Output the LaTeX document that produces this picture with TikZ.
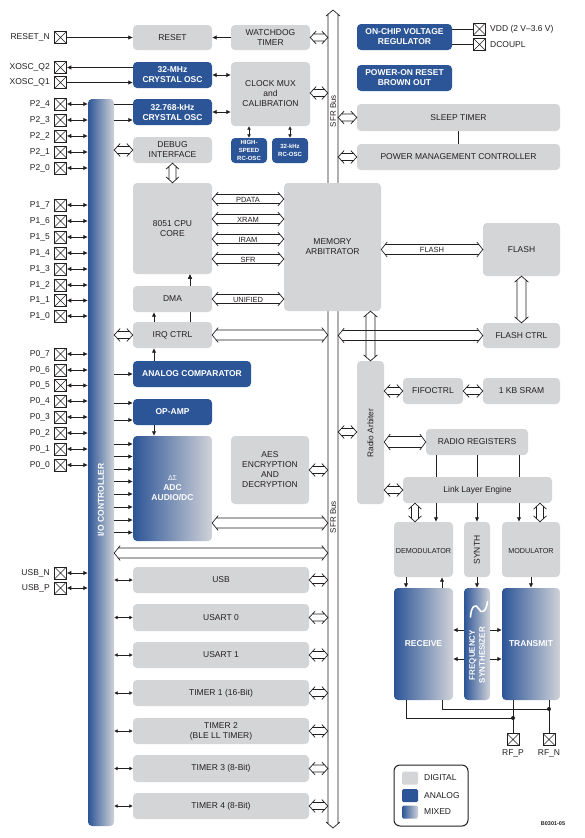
\documentclass[tikz,border=0pt]{standalone}
\usepackage{fontspec}
\setmainfont{Liberation Sans}
\usetikzlibrary{arrows.meta,calc}
\definecolor{dgray}{RGB}{212,213,215}
\definecolor{ablue}{RGB}{44,85,151}
\definecolor{mgray}{RGB}{208,210,216}
\definecolor{tcol}{RGB}{35,31,32}
\tikzset{
 base/.style={rounded corners=4pt, inner sep=0pt, align=center, font=\fontsize{8.5}{10}\selectfont},
 dig/.style={base, fill=dgray, text=tcol},
 ana/.style={base, fill=ablue, text=white, font=\fontsize{8.5}{10}\selectfont\bfseries},
 anasmall/.style={ana, font=\fontsize{6}{7.6}\selectfont\bfseries},
 mix/.style={base, left color=ablue, right color=mgray, text=white, font=\fontsize{8.5}{10}\selectfont\bfseries},
 pinbox/.style={draw=tcol, line width=0.6pt, minimum size=12pt, inner sep=0pt, fill=white,
   path picture={\draw[line width=0.5pt, tcol] (path picture bounding box.south west) -- (path picture bounding box.north east) (path picture bounding box.north west) -- (path picture bounding box.south east);}},
 ptxt/.style={font=\fontsize{8.5}{10}\selectfont, text=tcol, inner sep=0pt},
 arr/.style={line width=0.7pt, draw=tcol, >={Latex[length=4.5pt,width=4.5pt]}},
 sarr/.style={line width=0.7pt, draw=tcol, >={Latex[length=3.5pt,width=4pt]}},
 hl/.style={line width=0.7pt, draw=tcol},
 btxt/.style={font=\fontsize{7.5}{9}\selectfont, text=tcol, inner sep=0pt},
 rtxt/.style={font=\fontsize{8}{9}\selectfont, text=tcol, inner sep=0pt, rotate=90},
}
\newcommand\blk[7]{\node[#6, minimum width={(#4-#2)*1pt}, minimum height={(#5-#3)*1pt}] (#1) at ({(#2+#4)/2},{(#3+#5)/2}) {#7};}
\newcommand\HA[5][white]{%
\path[fill=#1] let \p1=#2, \p2=#3 in (\x1,\y1) -- ({\x1+6pt},{\y1+#5pt}) -- ({\x1+6pt},{\y1+#4pt}) -- ({\x2-6pt},{\y1+#4pt}) -- ({\x2-6pt},{\y1+#5pt}) -- (\x2,\y1) -- ({\x2-6pt},{\y1-#5pt}) -- ({\x2-6pt},{\y1-#4pt}) -- ({\x1+6pt},{\y1-#4pt}) -- ({\x1+6pt},{\y1-#5pt}) -- cycle;
\draw[hl] let \p1=#2, \p2=#3, \n1={6*#4/#5} in ({\x1+6pt},{\y1+#5pt}) -- (\x1,\y1) -- ({\x1+6pt},{\y1-#5pt}) ({\x2-6pt},{\y1+#5pt}) -- (\x2,\y1) -- ({\x2-6pt},{\y1-#5pt}) ({\x1+\n1*1pt},{\y1+#4pt}) -- ({\x2-\n1*1pt},{\y1+#4pt}) ({\x1+\n1*1pt},{\y1-#4pt}) -- ({\x2-\n1*1pt},{\y1-#4pt});}
\newcommand\VA[5][white]{%
\path[fill=#1] let \p1=#2, \p2=#3 in (\x1,\y1) -- ({\x1+#5pt},{\y1-6pt}) -- ({\x1+#4pt},{\y1-6pt}) -- ({\x1+#4pt},{\y2+6pt}) -- ({\x1+#5pt},{\y2+6pt}) -- (\x1,\y2) -- ({\x1-#5pt},{\y2+6pt}) -- ({\x1-#4pt},{\y2+6pt}) -- ({\x1-#4pt},{\y1-6pt}) -- ({\x1-#5pt},{\y1-6pt}) -- cycle;
\draw[hl] let \p1=#2, \p2=#3, \n1={6*#4/#5} in ({\x1+#5pt},{\y1-6pt}) -- (\x1,\y1) -- ({\x1-#5pt},{\y1-6pt}) ({\x1+#5pt},{\y2+6pt}) -- (\x1,\y2) -- ({\x1-#5pt},{\y2+6pt}) ({\x1+#4pt},{\y1-\n1*1pt}) -- ({\x1+#4pt},{\y2+\n1*1pt}) ({\x1-#4pt},{\y1-\n1*1pt}) -- ({\x1-#4pt},{\y2+\n1*1pt});}
\begin{document}
\begin{tikzpicture}[x=1pt,y=-1pt]
\useasboundingbox (0,0) rectangle (584,838);
\fill[white] (0,0) rectangle (584,838);

% SFR bus
\coordinate (sfrtop) at (333,10);
\coordinate (sfrbot) at (333,828);
\VA{(sfrtop)}{(sfrbot)}{5}{7}
\node[inner sep=0pt, minimum width=10pt, minimum height=818pt] (sfr) at (333,419) {};
\node[rtxt] (sfrl1) at (333,111) {SFR Bus};
\node[rtxt] (sfrl2) at (333,517) {SFR Bus};

% left column blocks
\blk{io}{88}{99}{114}{826}{mix}{}
\node[rotate=90, text=white, font=\fontsize{8.5}{10}\selectfont\bfseries, inner sep=0pt] (iot) at (101,500) {I/O CONTROLLER};
\blk{reset}{133}{25}{212}{50}{dig}{RESET}
\blk{wd}{231}{25}{310}{50}{dig}{WATCHDOG\\TIMER}
\blk{xosc32m}{133}{62}{212}{88}{ana}{32-MHz\\CRYSTAL OSC}
\blk{clkmux}{231}{62}{310}{126}{dig}{CLOCK MUX\\and\\CALIBRATION}
\blk{xosc32k}{133}{99}{212}{125}{ana}{32.768-kHz\\CRYSTAL OSC}
\blk{hsrc}{231}{138}{267}{163}{anasmall}{HIGH-\\SPEED\\RC-OSC}
\blk{rc32k}{272}{138}{308}{163}{anasmall}{32-kHz\\RC-OSC}
\blk{dbg}{133}{137}{212}{163}{dig}{DEBUG\\INTERFACE}
\blk{cpu}{133}{183}{212}{274}{dig}{8051 CPU\\CORE}
\blk{arb}{284}{183}{381}{311}{dig}{MEMORY\\ARBITRATOR}
\blk{irq}{133}{322}{212}{348}{dig}{IRQ CTRL}
\draw[arr,->] (irq.north -| 190,0) -- (cpu.south -| 190,0);
\blk{dma}{133}{286}{212}{312}{dig}{DMA}
\blk{acomp}{133}{361}{251}{387}{ana}{ANALOG COMPARATOR}
\blk{opamp}{133}{399}{212}{425}{ana}{OP-AMP}
\blk{adc}{133}{436}{212}{541}{mix}{{\fontsize{7}{8}\selectfont\mdseries ΔΣ}\\ADC\\AUDIO/DC}
\blk{aes}{231}{436}{309}{504}{dig}{AES\\ENCRYPTION\\AND\\DECRYPTION}
\blk{usb}{133}{567}{309}{593}{dig}{USB}
\blk{usart0}{133}{604}{309}{631}{dig}{USART 0}
\blk{usart1}{133}{642}{309}{668}{dig}{USART 1}
\blk{t1}{133}{680}{309}{706}{dig}{TIMER 1 (16-Bit)}
\blk{t2}{133}{718}{309}{744}{dig}{TIMER 2\\(BLE LL TIMER)}
\blk{t3}{133}{755}{309}{782}{dig}{TIMER 3 (8-Bit)}
\blk{t4}{133}{793}{309}{819}{dig}{TIMER 4 (8-Bit)}

% right column blocks
\blk{vreg}{357}{24}{452}{50}{ana}{ON-CHIP VOLTAGE\\REGULATOR}
\blk{por}{357}{65}{452}{91}{ana}{POWER-ON RESET\\BROWN OUT}
\blk{sleep}{357}{104}{560}{131}{dig}{SLEEP TIMER}
\blk{pmc}{357}{144}{560}{170}{dig}{POWER MANAGEMENT CONTROLLER}
\blk{flash}{483}{223}{560}{276}{dig}{FLASH}
\blk{flashctrl}{483}{323}{560}{348}{dig}{FLASH CTRL}
\blk{rarb}{357}{361}{384}{504}{dig}{}
\node[rtxt, font=\fontsize{8.3}{9}\selectfont] (rarbt) at (370.5,433) {Radio Arbiter};
\blk{fifo}{403}{378}{463}{404}{dig}{FIFOCTRL}
\blk{sram}{483}{378}{560}{404}{dig}{1 KB SRAM}
\blk{rreg}{426}{429}{528}{455}{dig}{RADIO REGISTERS}
\blk{lle}{403}{477}{552}{503}{dig}{Link Layer Engine}
\draw[hl] (rreg.south -| 436,0) -- (lle.north -| 436,0);
\draw[hl] (rreg.south -| 477,0) -- (lle.north -| 477,0);
\draw[hl] (rreg.south -| 519,0) -- (lle.north -| 519,0);
\blk{demod}{394}{522}{453}{577}{dig}{}
\node[ptxt, font=\fontsize{7.2}{9}\selectfont] (demodt) at (423.5,551) {DEMODULATOR};
\blk{synth}{464}{522}{490}{577}{dig}{}
\node[rtxt, font=\fontsize{8.5}{9}\selectfont] (syntht) at (477,550) {SYNTH};
\blk{mod}{502}{522}{560}{577}{dig}{}
\node[ptxt, font=\fontsize{7.2}{9}\selectfont] (modt) at (531,551) {MODULATOR};
\blk{rx}{394}{588}{453}{700}{mix}{RECEIVE}
\blk{fs}{464}{588}{490}{700}{mix}{}
\node[rotate=90, text=white, align=center, inner sep=0pt, font=\fontsize{8}{10}\selectfont\bfseries] (fst) at (477,655) {FREQUENCY\\SYNTHESIZER};
\draw[white, line width=1.6pt, line cap=round] (470.5,617) .. controls (471,606) and (476,603) .. (478.5,608.5) .. controls (481,614) and (486,613) .. (487.5,601.5);
\blk{tx}{502}{588}{560}{700}{mix}{TRANSMIT}

% pins
\node[pinbox] (prst) at (60.5,37.5) {};
\node[ptxt, anchor=east] (tprst) at (50,37.5) {RESET\_N};
\node[pinbox] (pq2) at (60.5,67.5) {};
\node[ptxt, anchor=east] (tpq2) at (50,67.5) {XOSC\_Q2};
\node[pinbox] (pq1) at (60.5,82.5) {};
\node[ptxt, anchor=east] (tpq1) at (50,82.5) {XOSC\_Q1};
\foreach \nm/\lab/\yy in {p24/P2\_4/104, p23/P2\_3/120, p22/P2\_2/136, p21/P2\_1/152, p20/P2\_0/168,
  p17/P1\_7/205, p16/P1\_6/221, p15/P1\_5/237, p14/P1\_4/253, p13/P1\_3/269, p12/P1\_2/285, p11/P1\_1/300.5, p10/P1\_0/316,
  p07/P0\_7/354, p06/P0\_6/370, p05/P0\_5/385.5, p04/P0\_4/401, p03/P0\_3/417, p02/P0\_2/433, p01/P0\_1/449, p00/P0\_0/465,
  usbn/USB\_N/573, usbp/USB\_P/588}{
  \node[pinbox] (\nm) at (60.5,\yy) {};
  \node[ptxt, anchor=east] (t\nm) at (50,\yy) {\lab};
  \draw[arr,<->] (\nm.east) -- (io.west |- \nm.east);
}
\node[pinbox] (vdd) at (479.5,29) {};
\node[ptxt, anchor=west] (tvdd) at (490,29) {VDD (2 V–3.6 V)};
\node[pinbox] (dcp) at (479.5,44.5) {};
\node[ptxt, anchor=west] (tdcp) at (490,44.5) {DCOUPL};
\draw[hl] (vreg.east |- vdd.west) -- (vdd.west);
\draw[hl] (vreg.east |- dcp.west) -- (dcp.west);
\node[pinbox] (rfp) at (513,739.5) {};
\node[ptxt] (trfp) at (513,753) {RF\_P};
\node[pinbox] (rfn) at (549,739.5) {};
\node[ptxt] (trfn) at (549,753) {RF\_N};

% simple arrows
\draw[arr,->] (prst.east) -- (reset.west);
\draw[arr,->] (wd.west) -- (reset.east);
\draw[arr,->] (xosc32m.west |- pq2.east) -- (pq2.east);
\draw[arr,->] (pq1.east) -- (xosc32m.west |- pq1.east);
\draw[arr,<->] (xosc32m.east) -- (clkmux.west |- xosc32m.east);
\draw[arr,<->] (xosc32k.east) -- (clkmux.west |- xosc32k.east);
\draw[sarr,<->] (clkmux.south -| hsrc.north) -- (hsrc.north);
\draw[sarr,<->] (clkmux.south -| rc32k.north) -- (rc32k.north);
\draw[arr] (io.east |- 0,104) -- (xosc32k.west |- 0,104);
\draw[arr,->] (io.east |- 0,120) -- (xosc32k.west |- 0,120);
\draw[arr,->] (dma.north -| 190,0) -- (cpu.south -| 190,0);
\draw[arr,->] (irq.north -| 154,0) -- (dma.south -| 154,0);
\draw[arr,->] (acomp.north -| 154,0) -- (irq.south -| 154,0);
\draw[arr,->] (io.east |- acomp.west) -- (acomp.west);
\draw[arr,->] (io.east |- 0,403) -- (opamp.west |- 0,403);
\draw[arr,->] (io.east |- 0,420) -- (opamp.west |- 0,420);
\draw[arr,->] (opamp.south -| 154,0) -- (adc.north -| 154,0);
\foreach \yy in {444,456.5,469,481.5,494,507,520,532.5}{
  \draw[arr,->] (io.east |- 0,\yy) -- (adc.west |- 0,\yy);
}
\draw[hl] (sleep.south) -- (pmc.north);
\draw[arr,->] (lle.south -| 436,0) -- (demod.north -| 436,0);
\draw[arr,->] (lle.south -| 477,0) -- (synth.north);
\draw[arr,->] (lle.south -| 519,0) -- (mod.north -| 519,0);
\draw[arr,->] (demod.south -| 406,0) -- (rx.north -| 406,0);
\draw[arr,->] (rx.north -| 442,0) -- (demod.south -| 442,0);
\draw[arr,->] (synth.south) -- (fs.north);
\draw[arr,->] (mod.south) -- (tx.north);
\draw[arr,->] (fs.west |- 0,630) -- (rx.east |- 0,630);
\draw[arr,->] (fs.west |- 0,659) -- (rx.east |- 0,659);
\draw[arr,->] (fs.east |- 0,630) -- (tx.west |- 0,630);
\draw[arr,->] (fs.east |- 0,659) -- (tx.west |- 0,659);
\coordinate (dotp) at (513,718);
\coordinate (dotn) at (549,709);
\draw[hl] (rx.south -| 406,0) |- (dotp);
\draw[hl] (rx.south -| 442,0) |- (dotn);
\draw[hl] (tx.south -| rfp.north) -- (rfp.north);
\draw[hl] (tx.south -| rfn.north) -- (rfn.north);
\fill[tcol] (dotp) circle (2pt);
\fill[tcol] (dotn) circle (2pt);

% hollow arrows, small
\HA{(wd.east)}{(sfr.west |- wd.east)}{3.5}{6.5}
\HA{(clkmux.east |- 0,93)}{(sfr.west |- 0,93)}{3.5}{6.5}
\HA{(sfr.east |- sleep.west)}{(sleep.west)}{3.5}{6.5}
\HA{(sfr.east |- pmc.west)}{(pmc.west)}{3.5}{6.5}
\HA{(io.east |- dbg.west)}{(dbg.west)}{3.5}{6.5}
\HA{(io.east |- irq.west)}{(irq.west)}{3.5}{6.5}
\VA{(dbg.south)}{(cpu.north)}{3.5}{6.5}
\HA{(aes.east |- 0,470)}{(sfr.west |- 0,470)}{3.5}{6.5}
\foreach \b in {usb,usart0,usart1,t1,t2,t3,t4}{
  \draw[sarr,<->] (io.east |- \b.west) -- (\b.west);
  \HA{(\b.east)}{(sfr.west |- \b.east)}{3.5}{6.5}
}
\HA{(sfr.east |- 0,432)}{(rarb.west |- 0,432)}{3.5}{6.5}
\HA{(rarb.east |- fifo.west)}{(fifo.west)}{3.5}{6.5}
\HA{(fifo.east)}{(sram.west)}{3.5}{6.5}
\HA{(rarb.east |- lle.west)}{(lle.west)}{3.5}{6.5}
\VA{(lle.south -| 415,0)}{(demod.north -| 415,0)}{3.5}{6.5}
\VA{(lle.south -| 540,0)}{(mod.north -| 540,0)}{3.5}{6.5}

% labelled buses
\HA{(cpu.east |- 0,199)}{(arb.west |- 0,199)}{4.5}{7}
\HA{(cpu.east |- 0,219)}{(arb.west |- 0,219)}{4.5}{7}
\HA{(cpu.east |- 0,239)}{(arb.west |- 0,239)}{4.5}{7}
\HA{(cpu.east |- 0,259)}{(arb.west |- 0,259)}{4.5}{7}
\HA{(dma.east)}{(arb.west |- dma.east)}{4.5}{7}
\node[btxt] (lpd) at (248,199.5) {PDATA};
\node[btxt] (lxr) at (248,219.5) {XRAM};
\node[btxt] (lir) at (248,239.5) {IRAM};
\node[btxt] (lsf) at (248,259.5) {SFR};
\node[btxt] (lun) at (248,299.5) {UNIFIED};
\HA{(arb.east |- flash.west)}{(flash.west)}{5}{7.5}
\node[btxt] (lfl) at (432,250) {FLASH};

% big hollow arrows
\HA{(irq.east)}{(sfr.west |- irq.east)}{5}{7.5}
\HA{(sfr.east |- flashctrl.west)}{(flashctrl.west)}{5}{7.5}
\HA{(adc.east |- 0,523)}{(sfr.west |- 0,523)}{5}{7.5}
\HA{(io.east |- 0,553)}{(sfr.west |- 0,553)}{5}{7.5}
\HA{(rarb.east |- rreg.west)}{(rreg.west)}{5.5}{8}
\VA{(flash.south)}{(flashctrl.north)}{4.5}{7}
\VA[none]{(arb.south -| rarb.north)}{(rarb.north)}{4.5}{7}

% legend
\node[draw=tcol, line width=1pt, rounded corners=6pt, minimum width=74pt, minimum height=61pt, inner sep=0pt] (leg) at (431,795.5) {};
\node[fill=dgray, rounded corners=1.5pt, minimum width=16pt, minimum height=13pt, inner sep=0pt] (sw1) at (410,778) {};
\node[fill=ablue, rounded corners=1.5pt, minimum width=16pt, minimum height=13pt, inner sep=0pt] (sw2) at (410,795.5) {};
\node[left color=ablue, right color=mgray, rounded corners=1.5pt, minimum width=16pt, minimum height=13pt, inner sep=0pt] (sw3) at (410,812) {};
\node[ptxt, anchor=west] (lg1) at (424,778) {DIGITAL};
\node[ptxt, anchor=west] (lg2) at (424,795.5) {ANALOG};
\node[ptxt, anchor=west] (lg3) at (424,812) {MIXED};
\node[ptxt, font=\fontsize{5.5}{6}\selectfont\bfseries] (code) at (553,823.5) {B0301-05};
\end{tikzpicture}
\end{document}
